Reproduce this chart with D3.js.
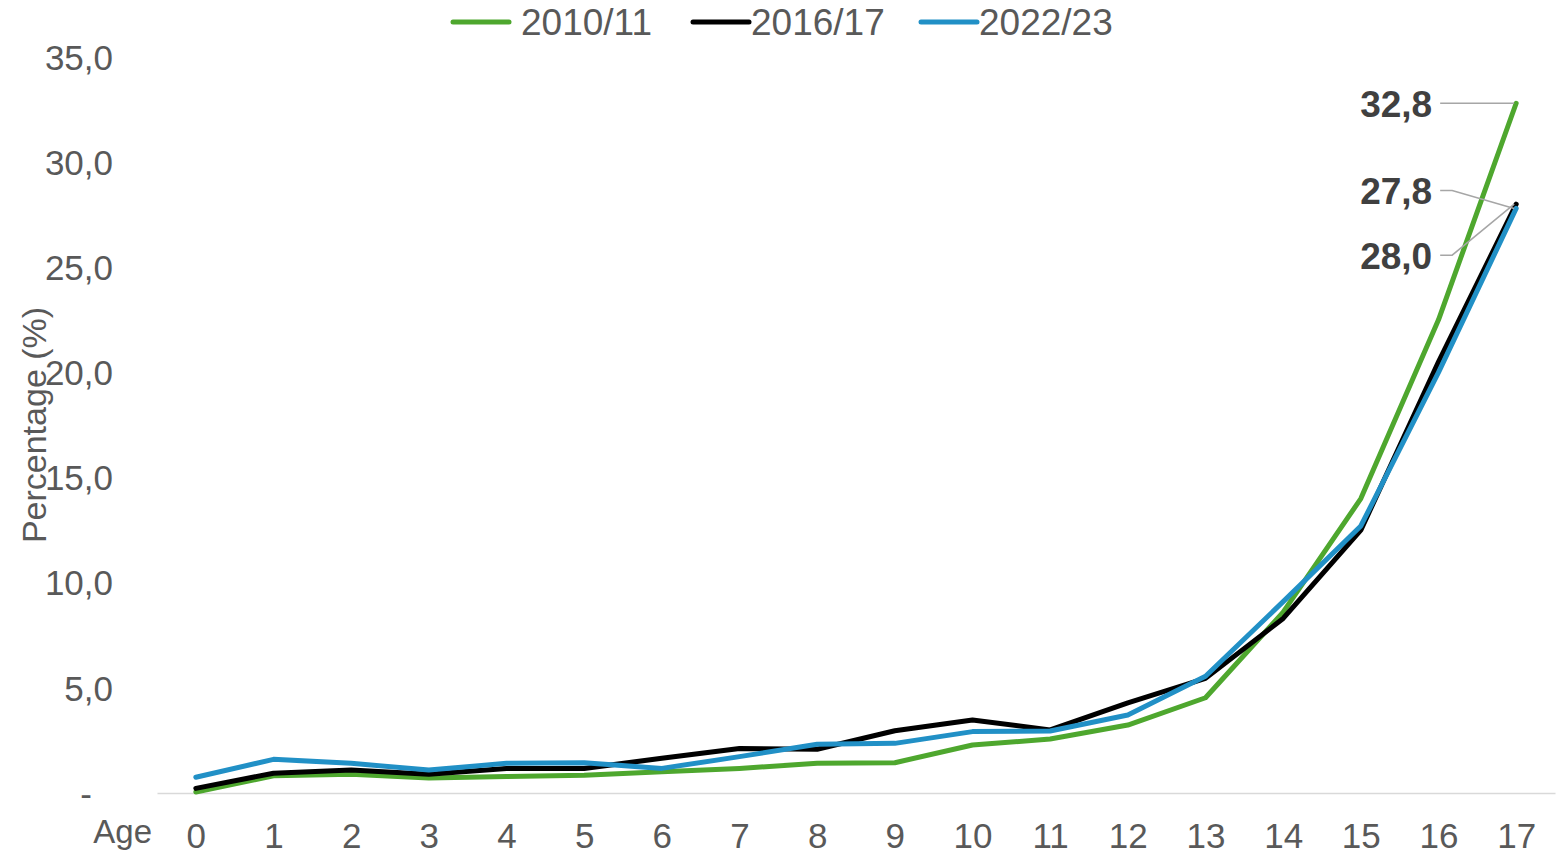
<!DOCTYPE html>
<html>
<head>
<meta charset="utf-8">
<script src="https://cdn.jsdelivr.net/npm/d3@7"></script>
<style>
  body { margin: 0; background: #fff; }
  text { font-family: "Liberation Sans", Arial, sans-serif; }
</style>
</head>
<body>
<script>
var ages = ['0', '1', '2', '3', '4', '5', '6', '7', '8', '9', '10', '11', '12', '13', '14', '15', '16', '17'];
var seriesNames = ['2010/11', '2016/17', '2022/23'];
var values2010 = [0.05, 0.82, 0.89, 0.71, 0.78, 0.84, 1.01, 1.17, 1.41, 1.44, 2.28, 2.57, 3.23, 4.53, 8.6, 14.0, 22.5, 32.8];
var values2016 = [0.22, 0.94, 1.09, 0.89, 1.16, 1.17, 1.65, 2.12, 2.08, 2.96, 3.47, 3.0, 4.29, 5.45, 8.3, 12.5, 20.5, 28.0];
var values2022 = [0.75, 1.6, 1.41, 1.09, 1.41, 1.44, 1.17, 1.73, 2.32, 2.36, 2.92, 2.95, 3.71, 5.55, 9.1, 12.7, 20.0, 27.8];
var yTicks = [0, 5, 10, 15, 20, 25, 30, 35];

var colors = ['#4ea72e', '#000000', '#2190c6'];
var series = [values2010, values2016, values2022];

var fullWidth = 1559;
var fullHeight = 854;
var margin = {top: 57, right: 4, bottom: 61, left: 157};
var width = fullWidth - margin.left - margin.right;
var height = fullHeight - margin.top - margin.bottom;

var svg = d3.select('body').append('svg')
  .attr('width', fullWidth)
  .attr('height', fullHeight);

var g = svg.append('g')
  .attr('transform', 'translate(' + margin.left + ',' + margin.top + ')');

var x = d3.scalePoint()
  .domain(ages)
  .range([0, width])
  .padding(0.5);

var y = d3.scaleLinear()
  .domain([0, 35])
  .range([height, 0]);

var fmt = function(v) {
  return v === 0 ? '-' : d3.format('.1f')(v).replace('.', ',');
};

// y axis labels (no line)
var yAxis = d3.axisLeft(y).tickValues(yTicks).tickSize(0).tickPadding(44).tickFormat(fmt);
var yAxisEle = g.append('g').call(yAxis);
yAxisEle.select('.domain').remove();
yAxisEle.selectAll('text')
  .style('font-size', '35px')
  .style('fill', '#595959')
  .attr('dy', '0.35em');
yAxisEle.selectAll('.tick').filter(function(d) { return d === 0; }).select('text')
  .attr('x', -65);

// x axis
var xAxis = d3.axisBottom(x).tickSize(0).tickPadding(30);
var xAxisEle = g.append('g')
  .attr('transform', 'translate(0,' + height + ')')
  .call(xAxis);
xAxisEle.select('.domain')
  .attr('stroke', '#d9d9d9')
  .attr('stroke-width', 1.5);
xAxisEle.selectAll('text')
  .style('font-size', '35px')
  .style('fill', '#595959');

g.append('text')
  .attr('x', -5)
  .attr('y', height + 50)
  .style('text-anchor', 'end')
  .style('font-size', '33px')
  .style('fill', '#595959')
  .text('Age');

svg.append('text')
  .attr('transform', 'translate(46,' + (margin.top + y(17.5)) + ') rotate(-90)')
  .style('text-anchor', 'middle')
  .style('font-size', '34px')
  .style('fill', '#595959')
  .text('Percentage (%)');

// lines
var line = d3.line()
  .x(function(d, i) { return x(ages[i]); })
  .y(function(d) { return y(d); });

g.selectAll('.series')
  .data(series)
  .enter().append('path')
  .attr('class', 'series')
  .attr('d', line)
  .attr('fill', 'none')
  .attr('stroke', function(d, i) { return colors[i]; })
  .attr('stroke-width', 5)
  .attr('stroke-linejoin', 'round')
  .attr('stroke-linecap', 'round');

// data labels at age 17 with leader lines
var last = ages.length - 1;
var callouts = [
  {v: values2010[last], dy: 0},
  {v: values2022[last], dy: -18},
  {v: values2016[last], dy: 51}
];
callouts.forEach(function(c) {
  var px = x(ages[last]);
  var py = y(c.v);
  var ly = py + c.dy;
  var lx = px - 76;
  g.append('path')
    .attr('d', d3.line()([[lx, ly], [lx + 12, ly], [px - 2, py]]))
    .attr('fill', 'none')
    .attr('stroke', '#a6a6a6')
    .attr('stroke-width', 1.5);
  g.append('text')
    .attr('x', lx - 8)
    .attr('y', ly)
    .attr('dy', '0.36em')
    .style('text-anchor', 'end')
    .style('font-size', '37px')
    .style('font-weight', 'bold')
    .style('fill', '#404040')
    .text(fmt(c.v));
});

// legend
var legendX = [453, 693, 921];
var legend = svg.append('g').attr('transform', 'translate(0,22)');
seriesNames.forEach(function(name, i) {
  legend.append('line')
    .attr('x1', legendX[i]).attr('x2', legendX[i] + 56)
    .attr('y1', 0).attr('y2', 0)
    .attr('stroke', colors[i])
    .attr('stroke-width', 5)
    .attr('stroke-linecap', 'round');
  legend.append('text')
    .attr('x', legendX[i] + (i === 0 ? 68 : 58))
    .attr('y', 0)
    .attr('dy', '0.35em')
    .style('font-size', '37px')
    .style('fill', '#595959')
    .text(name);
});
</script>
</body>
</html>
